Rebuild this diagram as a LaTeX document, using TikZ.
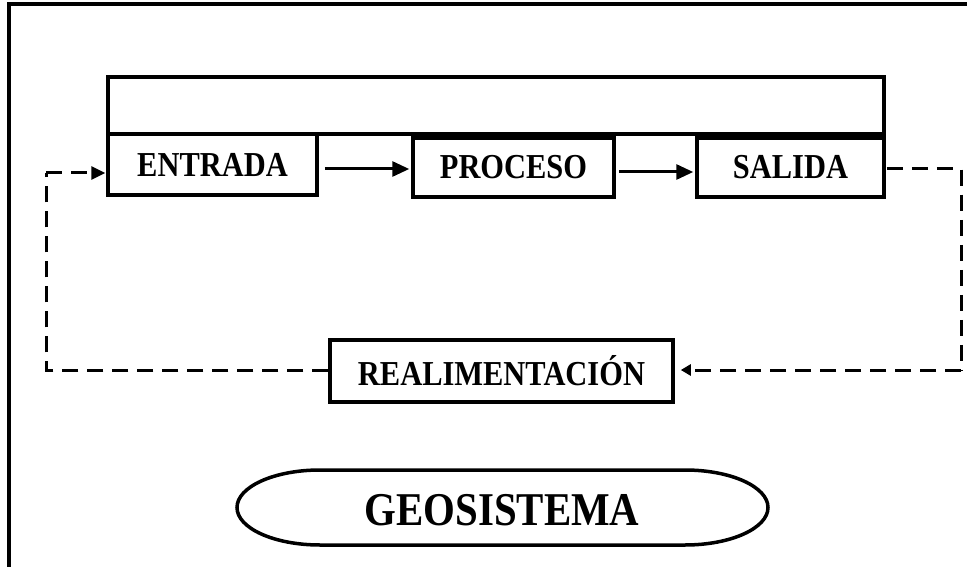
\documentclass[tikz,border=0pt]{standalone}
\usepackage{fontspec}
\setmainfont{Liberation Serif}[FakeStretch=0.87]
\usetikzlibrary{arrows.meta}
\begin{document}
\begin{tikzpicture}[x=1pt,y=-1pt,
  box/.style={draw,line width=3.5pt,inner sep=0pt,
    font=\bfseries\fontsize{35}{35}\selectfont},
  arr/.style={line width=3pt,-{Triangle[length=17pt,width=15pt]}},
  fb/.style={line width=3pt,dash pattern=on 16pt off 9pt},
  fbarr/.style={fb,-{Triangle[length=14pt,width=13pt]}}]
\useasboundingbox (0,0) rectangle (967,567);
% frame
\draw[line width=4pt] (9,567) -- (9,4) -- (967,4);
% boxes
\node[box,minimum width=776pt,minimum height=57pt] (top) at (496,105.5) {};
\node[box,minimum width=209pt,minimum height=61pt] (entrada) at (212.5,164.5) {\raisebox{-6pt}{ENTRADA}};
\node[box,minimum width=201pt,minimum height=59pt] (proceso) at (513.5,167.5) {\raisebox{-5pt}{PROCESO}};
\node[box,minimum width=187pt,minimum height=59pt] (salida) at (790.5,167.5) {\raisebox{-5pt}{SALIDA}};
\node[box,minimum width=343pt,minimum height=62pt] (realim) at (501.5,371) {\raisebox{-4pt}{REALIMENTACIÓN}};
% arrows
\draw[arr] ([xshift=6pt,yshift=-4.5pt]entrada.east) -- ([xshift=-2pt,yshift=-1.5pt]proceso.west);
\draw[arr] ([xshift=3pt,yshift=-4.5pt]proceso.east) -- ([xshift=-2pt,yshift=-4.5pt]salida.east -| salida.west);
% feedback
\coordinate (r1) at (961,169);
\coordinate (r2) at (961,370);
\coordinate (l1) at (46,370);
\coordinate (l2) at (46,173);
\draw[fb] ([xshift=1pt,yshift=-1.5pt]salida.east) -- (r1) -- (r2);
\draw[fb,-{Triangle[length=10pt,width=11pt]}] (r2) -- ([xshift=6pt,yshift=1pt]realim.east);
\draw[fb] ([yshift=1pt]realim.west) -- (l1) -- (l2);
\draw[fbarr] (l2) -- ([xshift=-1pt,yshift=-8.5pt]entrada.west);
% geosistema
\draw[line width=3.5pt] (320,470) -- (685,470) arc[start angle=-90,end angle=90,x radius=83,y radius=37.5]
  -- (320,545) arc[start angle=90,end angle=270,x radius=83,y radius=37.5] -- cycle;
\node[font=\bfseries\fontsize{47}{47}\selectfont,inner sep=0pt] (geo) at (502,510) {GEOSISTEMA};
\end{tikzpicture}
\end{document}
